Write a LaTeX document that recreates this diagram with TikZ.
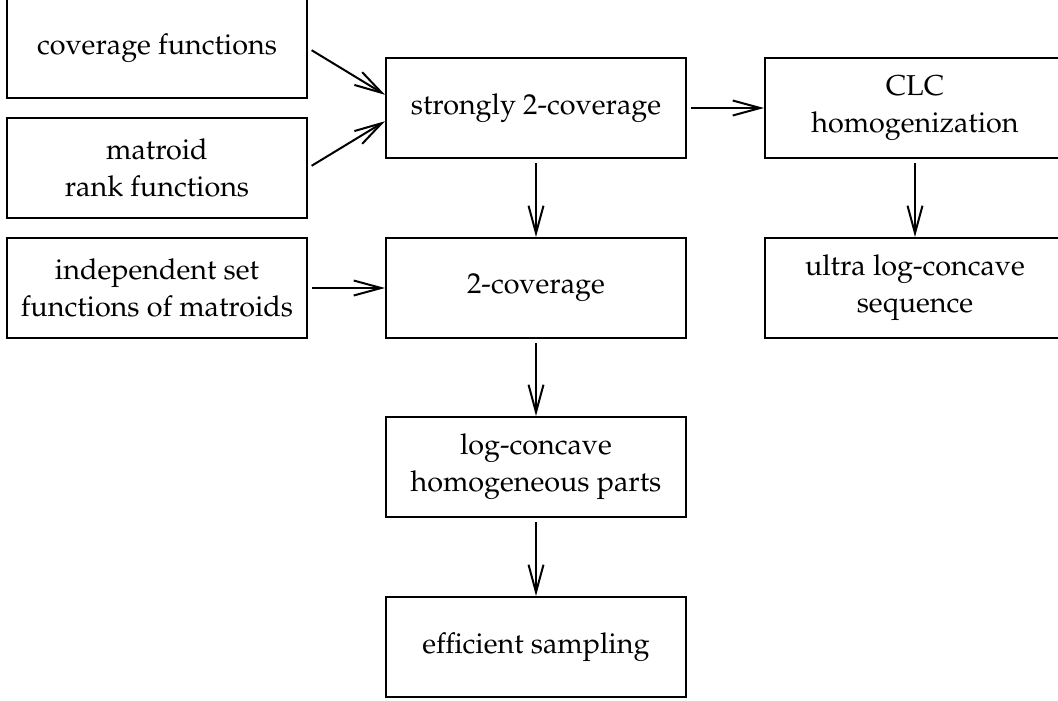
\documentclass[tikz,border=0pt]{standalone}
\usepackage[T1]{fontenc}
\usepackage{mathpazo}
\usetikzlibrary{arrows.meta}
\newcommand{\FB}{\fontsize{11.5}{14.8}\selectfont}

\begin{document}
\begin{tikzpicture}[x=0.4pt,y=-0.4pt]
\tikzstyle{caja}=[draw,line width=0.8pt,minimum width=120pt,minimum height=40pt,align=center,inner sep=0pt,font=\FB]
\tikzstyle{flecha}=[line width=0.8pt,-{Straight Barb[length=11pt,width=6pt]},shorten <=1.7pt]

\useasboundingbox (0,0) rectangle (1058,700);

\node[caja] (cov) at (157,48)  {coverage functions};
\node[caja] (mat) at (157,168) {matroid\\rank functions};
\node[caja] (ind) at (157,288) {independent set\\functions of matroids};

\node[caja] (strong) at (536,108) {strongly 2-coverage};
\node[caja] (two)    at (536,288) {2-coverage};
\node[caja] (lcv)    at (536,467) {log-concave\\homogeneous parts};
\node[caja] (eff)    at (536,647) {efficient sampling};

\node[caja] (clc)   at (915,108) {CLC\\homogenization};
\node[caja] (ultra) at (915,288) {ultra log-concave\\sequence};

\draw[flecha] (cov.east) -- (strong.175);
\draw[flecha] (mat.east) -- (strong.185);
\draw[flecha] (ind.east) -- (two.west);
\draw[flecha] (strong.east) -- (clc.west);
\draw[flecha] (strong.south) -- (two.north);
\draw[flecha] (two.south) -- (lcv.north);
\draw[flecha] (lcv.south) -- (eff.north);
\draw[flecha] (clc.south) -- (ultra.north);
\end{tikzpicture}
\end{document}
